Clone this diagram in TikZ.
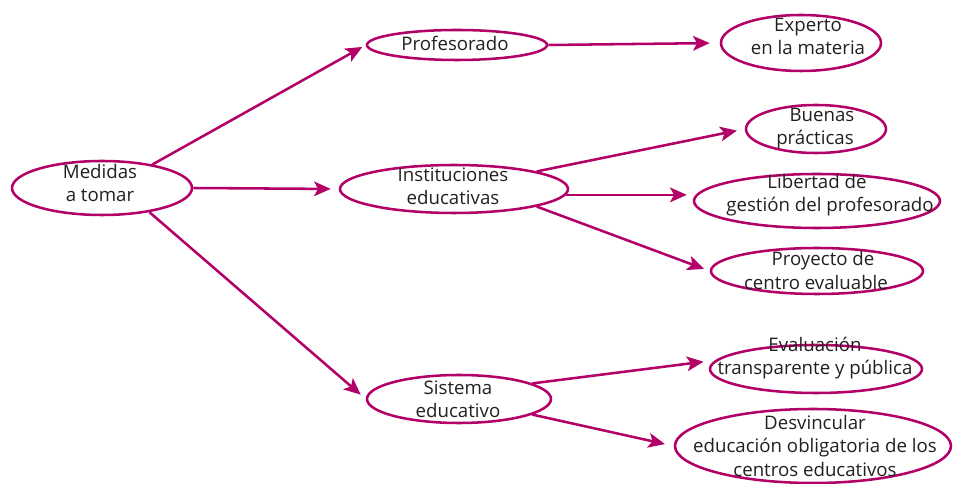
\documentclass[tikz,border=0pt]{standalone}
\usepackage{fontspec}
\setmainfont{Open Sans}
\usetikzlibrary{arrows.meta,shapes.geometric}
\definecolor{mag}{RGB}{178,0,104}
\definecolor{txt}{RGB}{35,31,32}
\tikzset{
  ell/.style 2 args={draw=mag, line width=1.9pt, shape=ellipse, inner sep=0pt,
     minimum width=#1*1.5pt, minimum height=#2*1.5pt},
  lbl/.style={inner sep=0pt, align=center, text=txt,
     font=\fontsize{14}{17.3}\selectfont},
  conn/.style={draw=mag, line width=1.9pt,
     -{Stealth[length=12.5pt,width=11pt,inset=3pt]}},
}
\begin{document}
\begin{tikzpicture}[x=0.75pt,y=-0.75pt]
\useasboundingbox (0,0) rectangle (954,484);
% ellipses
\node[ell={90}{27}] (m) at (102,188) {};
\node[ell={90}{15}] (p) at (457,45) {};
\node[ell={80}{28}] (e) at (801,43) {};
\node[ell={70}{24}] (b) at (816,129) {};
\node[ell={114}{24}] (i) at (454,189) {};
\node[ell={123}{27}] (l) at (817,201) {};
\node[ell={106}{23}] (pr) at (817,271) {};
\node[ell={92}{24}] (s) at (459,399) {};
\node[ell={106}{24}] (ev) at (816,369) {};
\node[ell={138}{37}] (d) at (813,446) {};
% texts
\node[lbl] (mt) at (100,183) {Medidas\\a tomar};
\node[lbl] (pt) at (455,43) {Profesorado};
\node[lbl] (et) at (808,36) {Experto\\en la materia};
\node[lbl] (bt) at (815,128.5) {\hspace*{10.5pt}Buenas\\prácticas};
\node[lbl] (it) at (453,186) {Instituciones\\educativas};
\node[lbl] (lt) at (817,195.5) {Libertad de\\\hspace*{19.5pt}gestión del profesorado};
\node[lbl] (prt) at (816,270.5) {\hspace*{10.5pt}Proyecto de\\centro evaluable};
\node[lbl] (st) at (458,399) {Sistema\\educativo};
\node[lbl] (evt) at (815,358) {Evaluación\\transparente y pública};
\node[lbl] (dt) at (815,446) {Desvincular\\educación obligatoria de los\\centros educativos};
% connectors
\draw[conn, shorten >=3pt] (m.25) -- (p.west);
\draw[conn, shorten >=6pt] (m.east) -- (i.west);
\draw[conn, shorten >=5pt] (m.-27) -- (s.west);
\draw[conn, shorten >=7.5pt] (p.east) -- (e.west);
\draw[conn, shorten >=6pt] (i.12) -- (b.west);
\draw[conn, shorten >=4.5pt] (i.-3) -- (i.-3 -| l.west);
\draw[conn, shorten >=4.5pt] (i.-12) -- (pr.west);
\draw[conn, shorten >=9pt] (s.12) -- (ev.175);
\draw[conn, shorten >=6.75pt] (s.-12) -- (d.west);
\end{tikzpicture}
\end{document}
